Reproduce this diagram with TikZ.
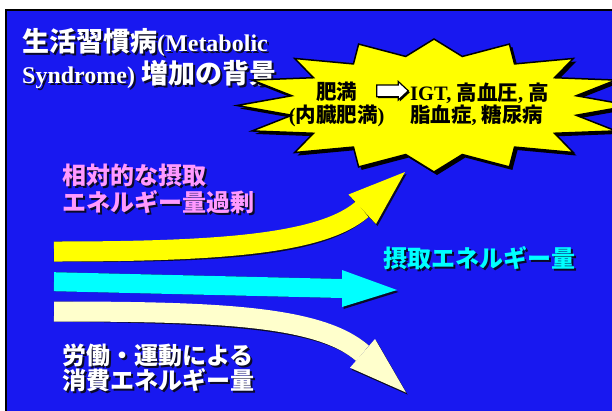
\documentclass[tikz,border=0pt]{standalone}
\usepackage{fontspec}
\setmainfont{Liberation Serif}
\newfontfamily\jp{Noto Sans CJK JP}
\definecolor{bg}{RGB}{24,24,240}
\definecolor{pinktxt}{RGB}{255,153,255}
\definecolor{cream}{RGB}{255,255,204}
\definecolor{ylw}{RGB}{255,255,0}
\definecolor{cyn}{RGB}{0,255,255}
\definecolor{shad}{RGB}{10,10,40}
\tikzset{
  lbl/.style={anchor=base west, inner sep=0pt, font=\bfseries},
  ctr/.style={anchor=base, inner sep=0pt, font=\bfseries},
  shaft/.style={line width=#1, line cap=butt},
  shaftshadow/.style={xshift=1.5pt, yshift=-2pt},
}
\newcommand{\shtext}[4]{%
  \node[lbl, text=shad, xshift=2pt, yshift=-2pt] at #2 {#4};
  \node[lbl, text=#3] (#1) at #2 {#4};}
\begin{document}
\begin{tikzpicture}[x=1pt,y=-1pt]
\useasboundingbox (0,0) rectangle (612,410);
\clip (0,0) rectangle (612,410);
\fill[white] (0,0) rectangle (612,410);
\fill[bg] (6,10) rectangle (616,414);
\draw[black, line width=2pt] (6,414) -- (6,10) -- (616,10);

% title
\shtext{t1}{(22,51)}{white}{{\fontsize{27}{30}\selectfont\jp 生活習慣病}\fontsize{24}{28}\selectfont(Metabolic}
\shtext{t2}{(22,83)}{white}{\fontsize{24}{28}\selectfont Syndrome) {\fontsize{27}{30}\selectfont\jp 増加の背景}}

% starburst
\fill[black, xshift=3pt, yshift=-3pt] plot[samples at={0,1,...,31}, variable=\k]
  ({434+ifthenelse(mod(\k,2)==0,197,145)*cos(90+11.25*\k)},
   {105.5-ifthenelse(mod(\k,2)==0,66.5,50)*sin(90+11.25*\k)}) -- cycle;
\filldraw[fill=ylw, draw=black, line width=1.5pt, line join=miter] plot[samples at={0,1,...,31}, variable=\k]
  ({434+ifthenelse(mod(\k,2)==0,197,145)*cos(90+11.25*\k)},
   {105.5-ifthenelse(mod(\k,2)==0,66.5,50)*sin(90+11.25*\k)}) -- cycle;

% star texts
\node[ctr] (s1) at (336.7,99.5) {\fontsize{20.5}{24}\selectfont\jp 肥満};
\node[ctr] (s2) at (336.7,122) {\fontsize{20.5}{24}\selectfont ({\jp 内臓肥満})};
\node[lbl] (s3) at (410,100) {\fontsize{20.5}{24}\selectfont IGT, {\jp 高血圧}, {\jp 高}};
\node[lbl] (s4) at (410,122) {\fontsize{20.5}{24}\selectfont {\jp 脂血症}, {\jp 糖尿病}};
% small white arrow
\fill[black, xshift=1.5pt, yshift=-1.5pt] (376.7,85) -- (398.3,85) -- (398.3,81.5) -- (408.3,90.8) -- (398.3,100) -- (398.3,96.7) -- (376.7,96.7) -- cycle;
\filldraw[fill=white, draw=black, line width=1.2pt] (376.7,85) -- (398.3,85) -- (398.3,81.5) -- (408.3,90.8) -- (398.3,100) -- (398.3,96.7) -- (376.7,96.7) -- cycle;

% yellow arrow
\coordinate (ya) at (54,251.5);
\coordinate (yb) at (362.2,209.2);
\begin{scope}[shaftshadow]
  \draw[shaft=20pt, shad] (ya) .. controls (220,251.5) and (322,244) .. (yb);
  \fill[shad] (348.5,194.5) -- (405,172) -- (376,224) -- cycle;
\end{scope}
\draw[shaft=20pt, ylw] (ya) .. controls (220,251.5) and (322,244) .. (yb);
\fill[ylw] (348.5,194.5) -- (405,172) -- (376,224) -- cycle;

% cyan arrow
\coordinate (ca) at (54,281.7);
\coordinate (cb) at (342,288.5);
\begin{scope}[shaftshadow]
  \draw[shaft=19pt, shad] (ca) -- (cb);
  \fill[shad] (342,270) -- (397,290) -- (342,307) -- cycle;
\end{scope}
\draw[shaft=19pt, cyn] (ca) -- (cb);
\fill[cyn] (342,270) -- (397,290) -- (342,307) -- cycle;

% cream arrow
\coordinate (wa) at (54,311.5);
\coordinate (wb) at (362.5,353.3);
\begin{scope}[shaftshadow]
  \draw[shaft=20pt, shad] (wa) .. controls (220,311.5) and (320,316) .. (wb);
  \fill[shad] (375,339) -- (406,392.5) -- (350,367.7) -- cycle;
\end{scope}
\draw[shaft=20pt, cream] (wa) .. controls (220,311.5) and (320,316) .. (wb);
\fill[cream] (375,339) -- (406,392.5) -- (350,367.7) -- cycle;

% labels
\shtext{l1}{(62,184)}{pinktxt}{\fontsize{24}{28}\selectfont\jp 相対的な摂取}
\shtext{l2}{(62,211)}{pinktxt}{\fontsize{24}{28}\selectfont\jp エネルギー量過剰}
\shtext{l3}{(383,267.5)}{cyn}{\fontsize{24}{28}\selectfont\jp 摂取エネルギー量}
\shtext{l4}{(62,364)}{white}{\fontsize{24}{28}\selectfont\jp 労働・運動による}
\shtext{l5}{(62,389)}{white}{\fontsize{24}{28}\selectfont\jp 消費エネルギー量}
\end{tikzpicture}
\end{document}
